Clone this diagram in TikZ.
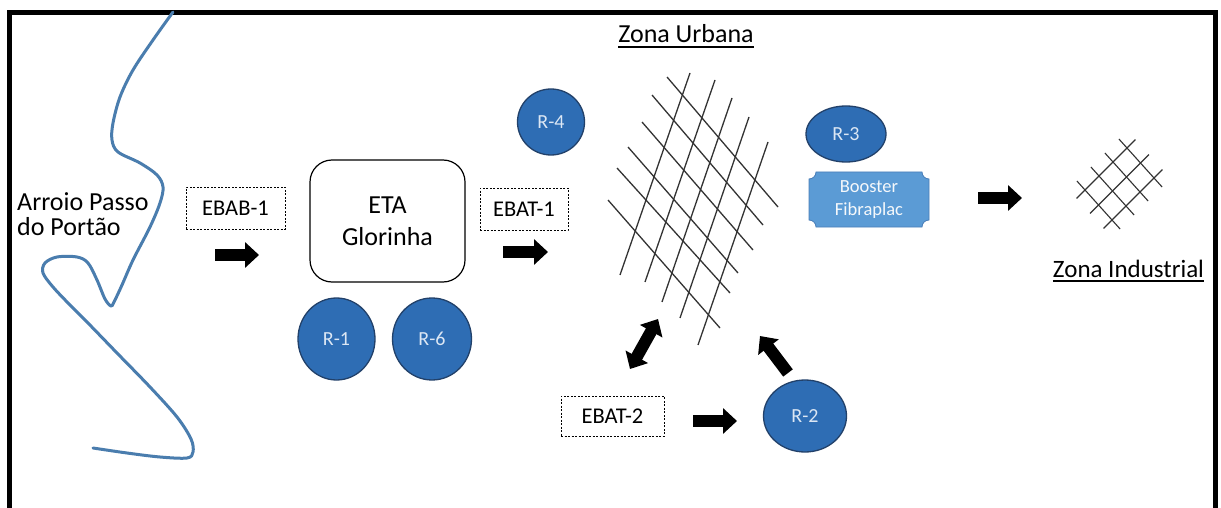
\documentclass[tikz,border=0pt]{standalone}
\usepackage{fontspec}
\setmainfont{Carlito}
\usetikzlibrary{shapes.geometric,arrows.meta,calc}
\definecolor{rblue}{HTML}{2E6DB4}
\definecolor{rborder}{HTML}{22416A}
\definecolor{rtext}{HTML}{DCE7F4}
\definecolor{bfill}{HTML}{5B9BD5}
\definecolor{bborder}{HTML}{4A7EB8}
\definecolor{river}{HTML}{4A7DAE}
\begin{document}
\begin{tikzpicture}[x=1pt,y=-1pt,
  res/.style={ellipse, draw=rborder, line width=1.3pt, fill=rblue, text=rtext,
    font=\fontsize{20}{22}\selectfont, inner sep=0pt},
  dbox/.style={draw, dash pattern=on 2pt off 1.5pt, line width=0.8pt,
    font=\fontsize{22.5}{24}\selectfont, inner sep=0pt},
  barrow/.style={line width=12pt, -{Triangle[length=14pt,width=25pt]}},
  dbarrow/.style={line width=12pt, {Triangle[length=14pt,width=25pt]}-{Triangle[length=14pt,width=25pt]}},
  gridline/.style={line width=1.3pt, draw=black!80},
  lbl/.style={font=\fontsize{26}{27}\selectfont, inner sep=0pt},
  uline/.style={line width=1.4pt}]
\useasboundingbox (0,0) rectangle (1221,508);
\fill[white] (0,0) rectangle (1221,508);
% frame
\draw[line width=5pt] (9,512) -- (9,13) -- (1215,13) -- (1215,512);
% river
\draw[river, line width=3pt, line cap=round, line join=round]
  plot[smooth, tension=0.55] coordinates {
  (173,12) (153,40) (133,70) (120,97) (113,123) (112,140) (118,152) (140,163)
  (157,175) (163,187) (160,203) (150,227) (133,260) (122,285) (114,302) (111,306)
  (105,299) (97,280) (88,263) (77,257) (57,257) (45,263) (43,273) (53,287)
  (70,305) (87,322) (117,353) (150,387) (177,417) (191,439) (193,452) (187,458)
  (160,457) (127,453) (93,448)};
% labels
\node[lbl, anchor=base west] (arroio1) at (17,210) {Arroio Passo};
\node[lbl, anchor=base west] (arroio2) at (17,235) {do Portão};
% boxes
\node[dbox, minimum width=99pt, minimum height=42pt] (ebab) at (235.5,208) {EBAB-1};
\node[draw, line width=1.2pt, rounded corners=22pt, minimum width=155pt, minimum height=122pt,
  align=center, font=\fontsize{26}{32}\selectfont] (eta) at (387.5,221) {ETA\\Glorinha};
\node[dbox, minimum width=88pt, minimum height=42pt] (ebat1) at (524,209) {EBAT-1};
\node[dbox, minimum width=103pt, minimum height=40pt] (ebat2) at (612.5,416) {EBAT-2};
% reservoirs
\node[res, minimum width=77pt, minimum height=82pt] (r1) at (336.5,339) {R-1};
\node[res, minimum width=79pt, minimum height=82pt] (r6) at (432,339) {R-6};
\node[res, minimum width=67pt, minimum height=66pt] (r4) at (551,122) {R-4};
\node[res, minimum width=80pt, minimum height=56pt] (r3) at (846,134) {R-3};
\node[res, minimum width=83pt, minimum height=72pt] (r2) at (805,416) {R-2};
% booster plaque
\fill[bfill, draw=bborder, line width=0.8pt]
  (816,172) -- (922,172) arc (180:90:7) -- (929,220) arc (270:180:7)
  -- (816,227) arc (0:-90:7) -- (809,179) arc (90:0:7) -- cycle;
\node[align=center, text=white!95!rblue, font=\fontsize{18.5}{23}\selectfont, inner sep=0pt]
  (booster) at (869,199.5) {Booster\\Fibraplac};
% zona urbana
\node[lbl, anchor=base] (zu) at (686,43) {Zona Urbana};
\draw[uline] ([yshift=-4pt]zu.base west) -- ([yshift=-4pt]zu.base east);
\foreach \a/\b/\c/\d in {620/275/690/73, 645/282/715/80, 662/302/732/98,
    680/318/749/117, 698/345/768/142,
    667/77/778/207, 652/95/763/225, 642/122/753/250, 628/147/738/273,
    617/168/730/293, 608/200/720/328}
  \draw[gridline] (\a,\b) -- (\c,\d);
% zona industrial
\node[lbl, font=\fontsize{25}{27}\selectfont, anchor=base] (zi) at (1128.5,277) {Zona Industrial};
\draw[uline] ([yshift=-4pt]zi.base west) -- ([yshift=-4pt]zi.base east);
\foreach \a/\b/\c/\d in {1118.9/139/1162.1/187, 1104.9/153/1148.1/201,
    1090.9/167/1134.1/215, 1076.9/181/1120.1/229,
    1135.4/139.6/1076.6/198.4, 1148.9/154.6/1090.1/213.4, 1162.4/169.6/1103.6/228.4}
  \draw[gridline, line width=1.1pt] (\a,\b) -- (\c,\d);
% arrows
\coordinate (a1s) at (215,255); \coordinate (a1e) at (259,255);
\coordinate (a2s) at (503,252); \coordinate (a2e) at (548,252);
\coordinate (a3s) at (978,198); \coordinate (a3e) at (1022,198);
\coordinate (a4s) at (693,421); \coordinate (a4e) at (737,421);
\coordinate (a5s) at (788,373); \coordinate (a5e) at (760,336);
\coordinate (a6s) at (630,369); \coordinate (a6e) at (658,319);
\draw[barrow] (a1s) -- (a1e);
\draw[barrow] (a2s) -- (a2e);
\draw[barrow] (a3s) -- (a3e);
\draw[barrow] (a4s) -- (a4e);
\draw[barrow] (a5s) -- (a5e);
\draw[dbarrow] (a6s) -- (a6e);
\end{tikzpicture}
\end{document}
